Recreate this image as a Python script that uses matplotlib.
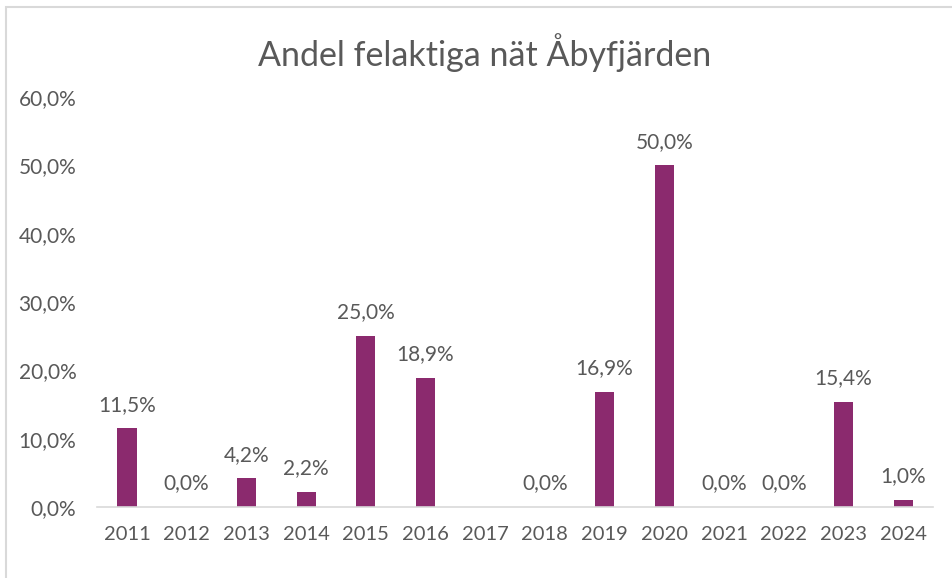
import matplotlib
matplotlib.use("Agg")
import matplotlib.pyplot as plt
import numpy as np

years = ["2011", "2012", "2013", "2014", "2015", "2016", "2017", "2018",
         "2019", "2020", "2021", "2022", "2023", "2024"]
values = [11.5, 0.0, 4.2, 2.2, 25.0, 18.9, None, 0.0, 16.9, 50.0, 0.0, 0.0, 15.4, 1.0]
yticks = [0, 10, 20, 30, 40, 50, 60]
title = "Andel felaktiga nät Åbyfjärden"

plt.rcParams['font.family'] = ['Lato', 'DejaVu Sans']
txt = '#595959'
bar_color = '#8B2A6E'

fig = plt.figure(figsize=(9.52, 5.78), dpi=100)
ax = fig.add_axes([0.102, 0.1228, 0.878, 0.7092])

x = np.arange(len(years))
vals = np.array([np.nan if v is None else v for v in values])
ax.bar(x, np.nan_to_num(vals), width=0.32, color=bar_color)
for xi, v in zip(x, values):
    if v is None:
        continue
    ax.text(xi, v + 2.0, f"{v:.1f}%".replace('.', ','), ha='center', va='bottom',
            fontsize=15, color=txt)

ax.set_xlim(-0.5, len(years) - 0.5)
ax.set_ylim(0, 60)
ax.set_xticks(x)
ax.set_xticklabels(years, fontsize=14.5, color=txt)
ax.set_yticks(yticks)
ax.set_yticklabels([f"{t:.1f}%".replace('.', ',') for t in yticks], fontsize=15, color=txt)
ax.tick_params(axis='both', length=0)
ax.tick_params(axis='x', pad=14)
ax.tick_params(axis='y', pad=15)
for s in ['top', 'right', 'left']:
    ax.spines[s].set_visible(False)
ax.spines['bottom'].set_color('#D9D9D9')
ax.spines['bottom'].set_linewidth(1.2)

fig.text(0.5095, 0.91, title, ha='center', va='center', fontsize=24.5, color=txt)

# outer border
border = plt.Rectangle((0.006, -0.01), 1.2, 0.998, transform=fig.transFigure,
                       fill=False, edgecolor='#D9D9D9', linewidth=1.5)
fig.patches.append(border)

fig.savefig("out.png", dpi=100)
